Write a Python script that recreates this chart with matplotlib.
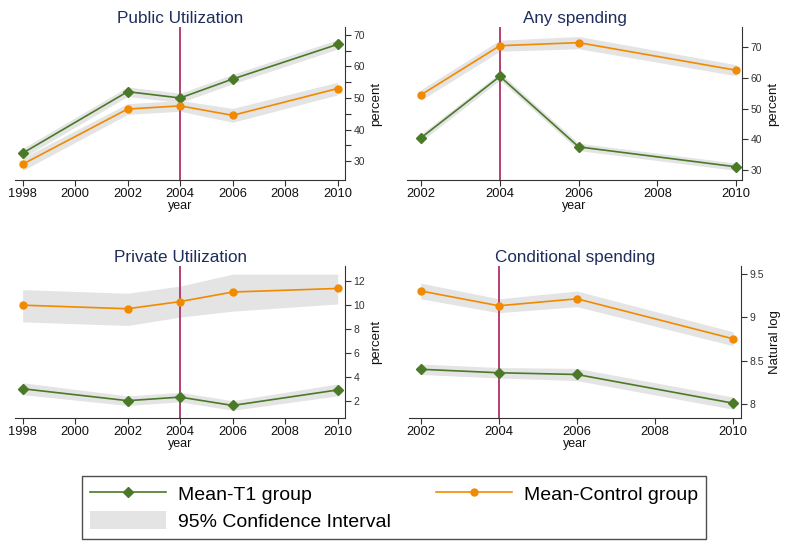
import matplotlib
matplotlib.use("Agg")
import matplotlib.pyplot as plt
from matplotlib.lines import Line2D
from matplotlib.patches import Patch

plt.rcParams['font.family'] = ['Liberation Sans', 'DejaVu Sans']

# ---- data ----
years_util = [1998, 2002, 2004, 2006, 2010]
years_spend = [2002, 2004, 2006, 2010]

pub_t1 = [32.5, 52.0, 50.0, 56.0, 67.0]
pub_t1_lo = [31.0, 50.5, 48.5, 54.5, 65.5]
pub_t1_hi = [34.0, 53.5, 51.5, 57.5, 68.5]
pub_ct = [29.0, 46.5, 47.5, 44.5, 53.0]
pub_ct_lo = [27.0, 44.8, 45.8, 42.3, 51.0]
pub_ct_hi = [31.0, 48.2, 49.2, 46.7, 55.0]

any_t1 = [40.5, 60.5, 37.5, 31.0]
any_t1_lo = [39.3, 59.3, 36.3, 29.8]
any_t1_hi = [41.7, 61.7, 38.7, 32.2]
any_ct = [54.5, 70.5, 71.5, 62.5]
any_ct_lo = [52.8, 68.7, 69.5, 60.7]
any_ct_hi = [56.2, 72.3, 73.5, 64.3]

prv_t1 = [3.0, 2.0, 2.3, 1.6, 2.9]
prv_t1_lo = [2.5, 1.6, 1.9, 1.2, 2.4]
prv_t1_hi = [3.5, 2.4, 2.7, 2.0, 3.4]
prv_ct = [10.0, 9.7, 10.3, 11.1, 11.4]
prv_ct_lo = [8.6, 8.3, 9.0, 9.5, 10.1]
prv_ct_hi = [11.3, 11.0, 11.6, 12.6, 12.6]

cnd_t1 = [8.40, 8.36, 8.34, 8.01]
cnd_t1_lo = [8.34, 8.30, 8.27, 7.94]
cnd_t1_hi = [8.46, 8.42, 8.41, 8.08]
cnd_ct = [9.30, 9.13, 9.21, 8.75]
cnd_ct_lo = [9.21, 9.05, 9.12, 8.67]
cnd_ct_hi = [9.39, 9.21, 9.30, 8.83]

titles = ["Public Utilization", "Any spending", "Private Utilization", "Conditional spending"]
ylabels = ["percent", "percent", "percent", "Natural log"]
xticks_util = [1998, 2000, 2002, 2004, 2006, 2008, 2010]
xticks_spend = [2002, 2004, 2006, 2008, 2010]
yticks_pub = [30, 40, 50, 60, 70]
yminor_pub = [35, 45, 55, 65]
yticks_any = [30, 40, 50, 60, 70]
yticks_prv = [2, 4, 6, 8, 10, 12]
yticks_cnd = [8, 8.5, 9, 9.5]
ytl_cnd = ["8", "8.5", "9", "9.5"]
event_year = 2004

GREEN = '#4a7a28'
ORANGE = '#f28a00'
BAND = '#e4e4e4'
VLINE = '#b0306a'
TITLE_C = '#1e2d5c'

fig = plt.figure(figsize=(7.88, 5.5), dpi=100)
W, H = 788, 550
def pos(l, t, r, b):
    return [l / W, (H - b) / H, (r - l) / W, (b - t) / H]

ax1 = fig.add_axes(pos(15, 27, 345, 180))
ax2 = fig.add_axes(pos(407, 27, 742, 180))
ax3 = fig.add_axes(pos(15, 266, 345, 418))
ax4 = fig.add_axes(pos(409, 266, 741, 418))

panels = [
    (ax1, years_util, pub_t1, pub_t1_lo, pub_t1_hi, pub_ct, pub_ct_lo, pub_ct_hi,
     xticks_util, yticks_pub, None, (1997.71, 2010.28), (24, 72.5)),
    (ax2, years_spend, any_t1, any_t1_lo, any_t1_hi, any_ct, any_ct_lo, any_ct_hi,
     xticks_spend, yticks_any, None, (2001.64, 2010.15), (26.7, 76.6)),
    (ax3, years_util, prv_t1, prv_t1_lo, prv_t1_hi, prv_ct, prv_ct_lo, prv_ct_hi,
     xticks_util, yticks_prv, None, (1997.71, 2010.28), (0.55, 13.28)),
    (ax4, years_spend, cnd_t1, cnd_t1_lo, cnd_t1_hi, cnd_ct, cnd_ct_lo, cnd_ct_hi,
     xticks_spend, yticks_cnd, ytl_cnd, (2001.7, 2010.2), (7.84, 9.587)),
]

for i, (ax, yrs, t1, t1lo, t1hi, ct, ctlo, cthi, xt, yt, ytl, xl, yl) in enumerate(panels):
    ax.fill_between(yrs, t1lo, t1hi, color=BAND, lw=0, zorder=1)
    ax.fill_between(yrs, ctlo, cthi, color=BAND, lw=0, zorder=1)
    ax.axvline(event_year, color=VLINE, lw=1.3, zorder=2)
    ax.plot(yrs, t1, color=GREEN, lw=1.2, marker='D', ms=5.2, mfc=GREEN, mec=GREEN, zorder=3)
    ax.plot(yrs, ct, color=ORANGE, lw=1.2, marker='o', ms=5.0, mfc=ORANGE, mec=ORANGE, zorder=3)
    ax.set_xlim(*xl)
    ax.set_ylim(*yl)
    ax.set_xticks(xt)
    ax.set_yticks(yt)
    if ytl is not None:
        ax.set_yticklabels(ytl)
    for s in ['top', 'left']:
        ax.spines[s].set_visible(False)
    for s in ['bottom', 'right']:
        ax.spines[s].set_color('#333333')
        ax.spines[s].set_linewidth(0.8)
    ax.yaxis.tick_right()
    ax.yaxis.set_label_position('right')
    ax.tick_params(axis='x', labelsize=9.3, length=4, width=0.8, color='#333333', pad=2, labelcolor='#111111')
    ax.tick_params(axis='y', labelsize=7.5, length=4, width=0.8, color='#333333', pad=2, labelcolor='#333333')
    ax.set_xlabel('year', fontsize=9, labelpad=0, color='#111111')
    ax.set_ylabel(ylabels[i], fontsize=9.5, labelpad=4, color='#111111')
    ax.set_title(titles[i], fontsize=12.3, color=TITLE_C, pad=3)
    ax.patch.set_alpha(0)

ax1.set_yticks(yminor_pub, minor=True)
ax1.tick_params(axis='y', which='minor', length=4, width=0.8, color='#333333')

handles = [
    Line2D([], [], color=GREEN, lw=1.2, marker='D', ms=5.2, mfc=GREEN, mec=GREEN),
    Patch(facecolor=BAND, edgecolor='none'),
    Line2D([], [], color=ORANGE, lw=1.2, marker='o', ms=5.0, mfc=ORANGE, mec=ORANGE),
]
labels = ["Mean-T1 group", "95% Confidence Interval", "Mean-Control group"]
leg = fig.legend(handles, labels, ncol=2, loc='center',
                 bbox_to_anchor=(394 / W, 1 - 507.5 / H),
                 fontsize=14, frameon=True, fancybox=False, edgecolor='#222222',
                 handlelength=3.9, handleheight=1.08, columnspacing=2.32, labelspacing=0.36,
                 borderpad=0.4, handletextpad=0.62, borderaxespad=0)
leg.get_frame().set_linewidth(1.0)

fig.savefig('out.png', dpi=100)
